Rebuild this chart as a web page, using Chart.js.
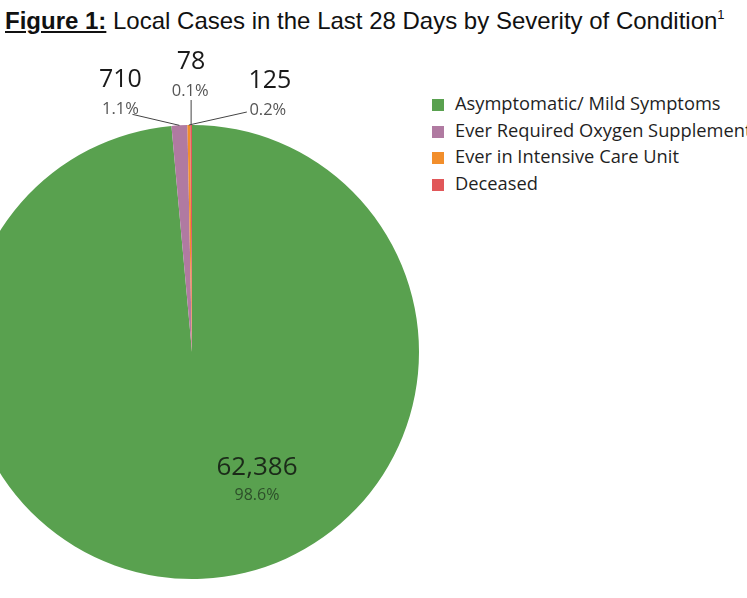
<!DOCTYPE html>
<html lang="en">
<head>
  <meta charset="UTF-8">
  <title>Local Cases by Severity of Condition</title>
  <script src="https://cdn.jsdelivr.net/npm/chart.js"></script>
  <style>
    body { margin: 0; background: #fff; width: 747px; height: 598px; overflow: hidden; position: relative; }
    h1 { position: absolute; left: 5px; top: 7px; margin: 0; font: 24px "Liberation Sans", Arial, sans-serif; font-weight: normal; color: #111; white-space: nowrap; }
    h1 b { text-decoration: underline; }
    h1 sup { font-size: 13px; vertical-align: 10px; }
    #wrap { position: absolute; left: -43px; top: 40px; width: 470px; height: 560px; }
    #legend { position: absolute; left: 432px; top: 92px; font: 18.3px "Open Sans", sans-serif; color: #1f1f1f; white-space: nowrap; }
    #legend div { height: 26.5px; line-height: 22px; }
    #legend span { display: inline-block; width: 12px; height: 12px; margin-right: 11px; vertical-align: -1px; }
  </style>
</head>
<body>
  <h1><b>Figure 1:</b> Local Cases in the Last 28 Days by Severity of Condition<sup>1</sup></h1>
  <div id="wrap">
    <canvas id="pie"></canvas>
  </div>
  <div id="legend"></div>

<script>
// data
const categories = ['Asymptomatic/ Mild Symptoms', 'Ever Required Oxygen Supplement', 'Ever in Intensive Care Unit', 'Deceased'];
const cases = [62386, 710, 125, 78];
const percents = ['98.6%', '1.1%', '0.2%', '0.1%'];
const colours = ['#59a14f', '#b07aa1', '#f28e2b', '#e15759'];

// where each slice's label sits, relative to the outer edge of the slice (callouts)
// or relative to the pie centre (inside label)
const labelPlaces = [
  { inside: true, tx: 65, ty: 123, py: 148 },
  { lx: -47, ly: -11, tx: -59, ty: -38, px: -59, py: -11 },
  { lx: 58, ly: -13, tx: 81, ty: -37, px: 79, py: -10 },
  { lx: 0, ly: -25, tx: 0, ty: -56, px: -1, py: -29 }
];

// legend built from the same arrays
const legend = document.getElementById('legend');
categories.forEach((name, i) => {
  const row = document.createElement('div');
  row.innerHTML = `<span style="background:${colours[i]}"></span>${name}`;
  legend.appendChild(row);
});

const sliceLabels = {
  id: 'sliceLabels',
  afterDraw(chart) {
    const ctx = chart.ctx;
    const arcs = chart.getDatasetMeta(0).data;
    ctx.save();
    ctx.textAlign = 'center';
    ctx.textBaseline = 'alphabetic';
    arcs.forEach((arc, i) => {
      const p = labelPlaces[i];
      const value = cases[i].toLocaleString('en-US');
      if (p.inside) {
        ctx.fillStyle = '#1b2a19';
        ctx.font = '26px "Open Sans", sans-serif';
        ctx.fillText(value, arc.x + p.tx, arc.y + p.ty);
        ctx.fillStyle = '#2d4f2a';
        ctx.font = '16px "Open Sans", sans-serif';
        ctx.fillText(percents[i], arc.x + p.tx, arc.y + p.py);
        return;
      }
      const mid = (arc.startAngle + arc.endAngle) / 2;
      const ex = arc.x + Math.cos(mid) * arc.outerRadius;
      const ey = arc.y + Math.sin(mid) * arc.outerRadius;
      ctx.strokeStyle = '#444';
      ctx.lineWidth = 1;
      ctx.beginPath();
      ctx.moveTo(ex + p.lx, ey + p.ly);
      ctx.lineTo(ex, ey);
      ctx.stroke();
      ctx.fillStyle = '#1a1a1a';
      ctx.font = '25px "Open Sans", sans-serif';
      ctx.fillText(value, ex + p.tx, ey + p.ty);
      ctx.fillStyle = '#555';
      ctx.font = '16.5px "Open Sans", sans-serif';
      ctx.fillText(percents[i], ex + p.px, ey + p.py);
    });
    ctx.restore();
  }
};

new Chart(document.getElementById('pie'), {
  type: 'pie',
  data: {
    labels: categories,
    datasets: [{
      data: cases,
      backgroundColor: colours,
      borderWidth: 0
    }]
  },
  options: {
    responsive: true,
    maintainAspectRatio: false,
    animation: false,
    layout: { padding: { top: 85, left: 8, right: 8, bottom: 21 } },
    plugins: {
      legend: { display: false },
      tooltip: { enabled: false }
    }
  },
  plugins: [sliceLabels]
});
</script>
</body>
</html>
